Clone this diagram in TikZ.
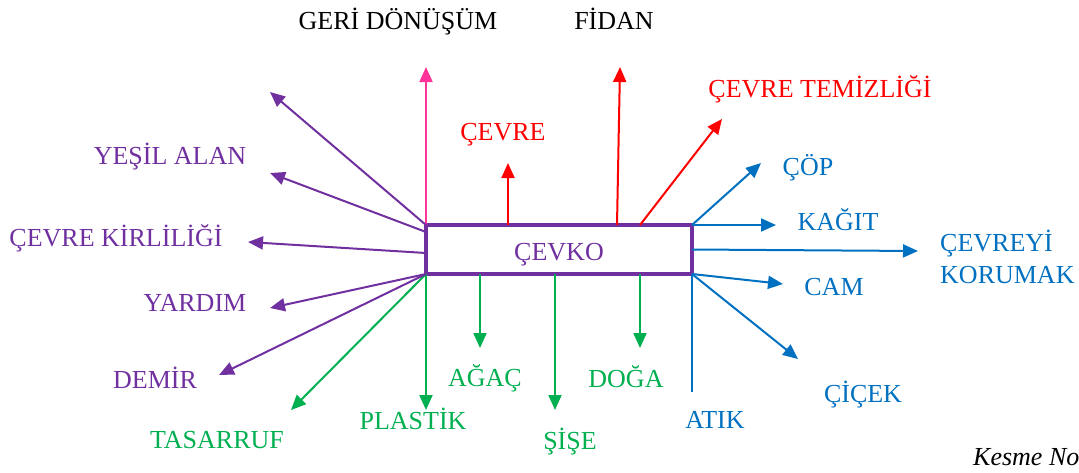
\documentclass[tikz,border=0pt]{standalone}
\usepackage{fontspec}
\setmainfont{Liberation Serif}
\usetikzlibrary{arrows.meta}
\definecolor{cvpurple}{HTML}{7030A0}
\definecolor{cvred}{HTML}{FF0000}
\definecolor{cvblue}{HTML}{0070C0}
\definecolor{cvgreen}{HTML}{00B050}
\definecolor{cvpink}{HTML}{FF3399}
\begin{document}
\begin{tikzpicture}[x=1pt,y=-1pt,%
% common options for the labels:
lbl/.style = {inner sep=0, anchor=base, font=\fontsize{26}{32}\selectfont},
% common options for the arrows:
arr/.style = {line width=2pt, -{Triangle[length=15pt,width=13pt]}}]
\useasboundingbox (0,0) rectangle (1079,472);
\node[draw=cvpurple, line width=4pt, minimum width=266pt, minimum height=49pt, outer sep=0,
      text=cvpurple, font=\fontsize{26}{32}\selectfont, text height=21pt, text depth=0pt] (cevko) at (559,249.5) {ÇEVKO};
% labels
\node[lbl] (geri) at (398,29) {GERİ DÖNÜŞÜM};
\node[lbl] (fidan) at (614,29) {FİDAN};
\node[lbl, text=cvred] (cevre) at (503,140) {ÇEVRE};
\node[lbl, text=cvred] (temiz) at (820,97) {ÇEVRE TEMİZLİĞİ};
\node[lbl, text=cvblue] (cop) at (808,175) {ÇÖP};
\node[lbl, text=cvblue] (kagit) at (838,230) {KAĞIT};
\node[lbl, text=cvblue, anchor=west, align=left] (koruma) at (940,257) {ÇEVREYİ\\KORUMAK};
\node[lbl, text=cvblue] (cam) at (834,295) {CAM};
\node[lbl, text=cvblue] (cicek) at (863,402) {ÇİÇEK};
\node[lbl, text=cvblue] (atik) at (715,428) {ATIK};
\node[lbl, text=cvgreen] (tasarruf) at (217,448) {TASARRUF};
\node[lbl, text=cvgreen] (plastik) at (413,429) {PLASTİK};
\node[lbl, text=cvgreen] (agac) at (485,386) {AĞAÇ};
\node[lbl, text=cvgreen] (sise) at (570,449) {ŞİŞE};
\node[lbl, text=cvgreen] (doga) at (626,387) {DOĞA};
\node[lbl, text=cvpurple] (yesil) at (170,164) {YEŞİL ALAN};
\node[lbl, text=cvpurple] (kirli) at (116,246) {ÇEVRE KİRLİLİĞİ};
\node[lbl, text=cvpurple] (yardim) at (195,311) {YARDIM};
\node[lbl, text=cvpurple] (demir) at (155,388) {DEMİR};
\node[lbl, anchor=base west, font=\fontsize{26}{32}\selectfont\itshape] (kesme) at (973,465) {Kesme No};
% start points on the box
\coordinate (cevreS) at (508,225);
\coordinate (fidanS) at (617,225);
\coordinate (temizS) at (640,225);
\coordinate (agacS) at (480,274);
\coordinate (siseS) at (555,274);
\coordinate (dogaS) at (640,274);
\coordinate (yesilS) at (426,232);
\coordinate (kirliS) at (426,253);
% arrow ends
\coordinate (geriT) at (426,67);
\coordinate (cevreT) at (508,163);
\coordinate (fidanT) at (620,67);
\coordinate (temizT) at (722,119);
\coordinate (copT) at (761,163);
\coordinate (kagitT) at (776,225);
\coordinate (korumaT) at (918,251);
\coordinate (camT) at (783,284);
\coordinate (cicekT) at (798,359);
\coordinate (atikE) at (692,392);
\coordinate (dogaT) at (640,348);
\coordinate (siseT) at (555,410);
\coordinate (agacT) at (480,348);
\coordinate (plastikT) at (426,410);
\coordinate (tasarrufT) at (291,410);
\coordinate (demirT) at (219,375);
\coordinate (yardimT) at (270,308);
\coordinate (kirliT) at (248,242);
\coordinate (yesilT) at (270,173);
\coordinate (ustT) at (270,92);
% arrows
\draw[arr, cvpink] (cevko.north west) -- (geriT);
\draw[arr, cvred] (cevreS) -- (cevreT);
\draw[arr, cvred] (fidanS) -- (fidanT);
\draw[arr, cvred] (temizS) -- (temizT);
\draw[arr, cvblue] (cevko.north east) -- (copT);
\draw[arr, cvblue] (cevko.north east) -- (kagitT);
\draw[arr, cvblue] (cevko.east) -- (korumaT);
\draw[arr, cvblue] (cevko.south east) -- (camT);
\draw[arr, cvblue] (cevko.south east) -- (cicekT);
\draw[line width=2pt, cvblue] (cevko.south east) -- (atikE);
\draw[arr, cvgreen] (dogaS) -- (dogaT);
\draw[arr, cvgreen] (siseS) -- (siseT);
\draw[arr, cvgreen] (agacS) -- (agacT);
\draw[arr, cvgreen] (cevko.south west) -- (plastikT);
\draw[arr, cvgreen] (cevko.south west) -- (tasarrufT);
\draw[arr, cvpurple] (cevko.south west) -- (demirT);
\draw[arr, cvpurple] (cevko.south west) -- (yardimT);
\draw[arr, cvpurple] (kirliS) -- (kirliT);
\draw[arr, cvpurple] (yesilS) -- (yesilT);
\draw[arr, cvpurple] (cevko.north west) -- (ustT);
\end{tikzpicture}
\end{document}
